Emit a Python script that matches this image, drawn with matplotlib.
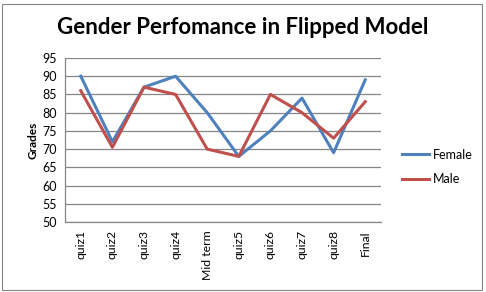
import matplotlib.pyplot as plt
from matplotlib.patches import Rectangle

categories = ['quiz1', 'quiz2', 'quiz3', 'quiz4', 'Mid term', 'quiz5', 'quiz6', 'quiz7', 'quiz8', 'Final']
female = [90, 72, 87, 90, 80, 68, 75, 84, 69, 89]
male = [86, 70.5, 87, 85, 70, 68, 85, 80, 73, 83]
y_ticks = [50, 55, 60, 65, 70, 75, 80, 85, 90, 95]

plt.rcParams['font.family'] = ['Lato', 'DejaVu Sans']

fig = plt.figure(figsize=(4.86, 2.92), dpi=100)
ax = fig.add_axes([65 / 486, 1 - 222 / 292, 316 / 486, 164 / 292])

x = list(range(len(categories)))
ax.plot(x, female, color='#4F81BD', linewidth=2.2, label='Female')
ax.plot(x, male, color='#C0504D', linewidth=2.2, label='Male')

ax.set_xlim(-0.5, len(categories) - 0.5)
ax.set_ylim(50, 95)
ax.set_yticks(y_ticks)
ax.set_xticks(x)
ax.set_xticklabels(categories, rotation=90, fontsize=8.8)
ax.tick_params(axis='y', labelsize=9, length=0, pad=6)
ax.tick_params(axis='x', length=0, pad=6)
ax.yaxis.grid(True, color='#868686', linewidth=0.9)
ax.set_axisbelow(True)
for side in ['top', 'right']:
    ax.spines[side].set_visible(False)
for side in ['left', 'bottom']:
    ax.spines[side].set_color('#868686')
    ax.spines[side].set_linewidth(0.9)

ax.set_ylabel('Grades', fontsize=8.5, fontweight='bold', labelpad=3)
fig.text(243 / 486, 1 - 28 / 292, 'Gender Perfomance in Flipped Model',
         ha='center', va='center', fontsize=16, fontweight='bold')

ax.legend(loc='center left', bbox_to_anchor=(1.03, 0.335), frameon=False,
          fontsize=9, handlelength=2.2, labelspacing=1.0, handletextpad=0.3)

fig.patches.append(Rectangle((2 / 486, 2 / 292), 480 / 486, 286 / 292, transform=fig.transFigure,
                             fill=False, edgecolor='#868686', linewidth=0.8))

fig.savefig('out.png', dpi=100)
